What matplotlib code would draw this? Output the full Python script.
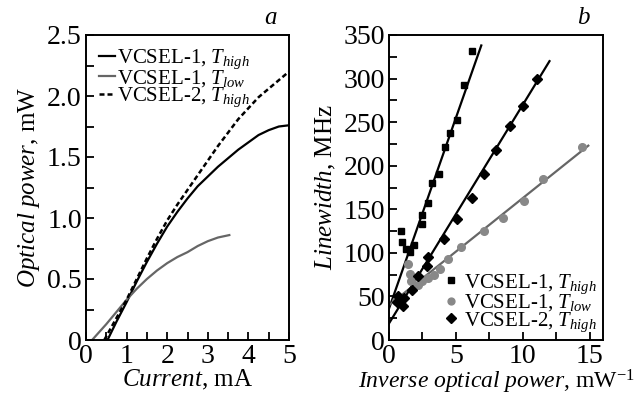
import matplotlib
matplotlib.use('Agg')
import matplotlib.pyplot as plt
from matplotlib.ticker import MultipleLocator, FuncFormatter

plt.rcParams['font.family'] = ['Liberation Serif', 'DejaVu Serif']
plt.rcParams['mathtext.fontset'] = 'custom'
plt.rcParams['mathtext.rm'] = 'Liberation Serif'
plt.rcParams['mathtext.it'] = 'Liberation Serif:italic'
plt.rcParams['mathtext.bf'] = 'Liberation Serif:bold'
plt.rcParams['xtick.direction'] = 'in'
plt.rcParams['ytick.direction'] = 'in'

# panel a: light-current curves
current_1h = [0.53, 0.75, 1.0, 1.25, 1.5, 1.75, 2.0, 2.25, 2.5, 2.75, 3.0, 3.25, 3.5, 3.75, 4.0, 4.25, 4.5, 4.75, 5.0]
power_1h = [0.0, 0.15, 0.31, 0.48, 0.64, 0.79, 0.93, 1.05, 1.16, 1.26, 1.34, 1.42, 1.49, 1.56, 1.62, 1.68, 1.72, 1.75, 1.76]
current_1l = [0.15, 0.5, 0.75, 1.0, 1.25, 1.5, 1.75, 2.0, 2.25, 2.5, 2.75, 3.0, 3.25, 3.53]
power_1l = [0.0, 0.13, 0.23, 0.33, 0.42, 0.50, 0.57, 0.63, 0.68, 0.72, 0.77, 0.81, 0.84, 0.86]
current_2h = [0.45, 0.75, 1.0, 1.25, 1.5, 1.75, 2.0, 2.25, 2.5, 2.75, 3.0, 3.25, 3.5, 3.75, 4.0, 4.25, 4.5, 4.75, 5.0]
power_2h = [0.0, 0.18, 0.33, 0.50, 0.67, 0.83, 0.98, 1.11, 1.23, 1.35, 1.47, 1.59, 1.70, 1.81, 1.90, 1.99, 2.06, 2.13, 2.20]

# panel b: linewidth vs inverse power
inv_1h = [0.6, 0.9, 1.0, 1.27, 1.57, 1.9, 2.43, 2.5, 2.94, 3.2, 3.76, 4.18, 4.55, 5.1, 5.62, 6.24]
lw_1h = [47, 125, 112, 104, 101, 109, 133, 144, 157, 180, 190, 222, 238, 252, 293, 332]
inv_1l = [0.55, 1.44, 1.57, 1.64, 2.14, 2.49, 2.94, 3.39, 3.81, 4.43, 5.37, 7.1, 8.53, 10.1, 11.5, 14.45]
lw_1l = [45, 87, 76, 68, 63, 68, 71, 75, 82, 93, 107, 125, 140, 160, 185, 222]
inv_2h = [0.62, 0.65, 1.07, 1.14, 1.69, 2.14, 2.84, 2.94, 4.13, 5.05, 6.17, 7.11, 8.03, 9.08, 10.0, 11.07]
lw_2h = [44, 50, 39, 48, 57, 73, 85, 95, 116, 139, 163, 190, 218, 246, 268, 299]

# fitted lines (end points)
fit_1h_x = [0, 6.9]
fit_1h_y = [36, 338]
fit_1l_x = [0, 14.9]
fit_1l_y = [40, 223]
fit_2h_x = [0, 12.0]
fit_2h_y = [19, 320]

labels = [r'VCSEL-1, $T_{high}$', r'VCSEL-1, $T_{low}$', r'VCSEL-2, $T_{high}$']

fig = plt.figure(figsize=(6.38, 4.01), dpi=100)
ax1 = fig.add_axes([86 / 638, 61 / 401, 203 / 638, 305 / 401])
ax2 = fig.add_axes([389 / 638, 61 / 401, 214 / 638, 305 / 401])

ax1.plot(current_1h, power_1h, color='black', lw=1.6, label=labels[0])
ax1.plot(current_1l, power_1l, color='#666666', lw=1.6, label=labels[1])
ax1.plot(current_2h, power_2h, color='black', lw=1.8, ls=(0, (2, 1.2)), label=labels[2])
ax1.set_xlim(0, 5)
ax1.set_ylim(0, 2.5)
ax1.xaxis.set_major_locator(MultipleLocator(1))
ax1.xaxis.set_minor_locator(MultipleLocator(0.5))
ax1.yaxis.set_major_locator(MultipleLocator(0.5))
ax1.yaxis.set_minor_locator(MultipleLocator(0.25))
ax1.yaxis.set_major_formatter(FuncFormatter(lambda v, p: '0' if v == 0 else '%.1f' % v))
ax1.set_xlabel(r'$Current$, mA', fontsize=18, labelpad=-1)
ax1.set_ylabel(r'$Optical\ power$, mW', fontsize=18, labelpad=4)
ax1.legend(loc='upper left', frameon=False, fontsize=15, handlelength=0.8, handletextpad=0.1,
           labelspacing=-0.15, borderaxespad=0.5, borderpad=0.1)
ax1.text(0.88, 1.02, 'a', transform=ax1.transAxes, fontsize=18, style='italic', va='bottom')

ax2.plot(fit_1h_x, fit_1h_y, color='black', lw=1.6)
ax2.plot(fit_1l_x, fit_1l_y, color='#666666', lw=1.6)
ax2.plot(fit_2h_x, fit_2h_y, color='black', lw=1.6)
ax2.plot(inv_1h, lw_1h, 's', color='black', ms=5, label=labels[0])
ax2.plot(inv_1l, lw_1l, 'o', color='#888888', ms=5.5, label=labels[1])
ax2.plot(inv_2h, lw_2h, 'D', color='black', ms=5.5, label=labels[2])
ax2.set_xlim(0, 16)
ax2.set_ylim(0, 350)
ax2.xaxis.set_major_locator(MultipleLocator(5))
ax2.xaxis.set_minor_locator(MultipleLocator(2.5))
ax2.yaxis.set_major_locator(MultipleLocator(50))
ax2.yaxis.set_minor_locator(MultipleLocator(25))
ax2.set_xlabel(r'$Inverse\ optical\ power$, mW$^{-1}$', fontsize=17, labelpad=-1)
ax2.set_ylabel(r'$Linewidth$, MHz', fontsize=18, labelpad=4)
ax2.legend(loc='lower right', frameon=False, fontsize=15, handlelength=0.6, handletextpad=0.3,
           labelspacing=-0.15, borderaxespad=0.2, borderpad=0.1, markerscale=0.9)
ax2.text(0.88, 1.02, 'b', transform=ax2.transAxes, fontsize=18, style='italic', va='bottom')

for ax in (ax1, ax2):
    for s in ax.spines.values():
        s.set_linewidth(1.4)
    ax.tick_params(axis='both', which='major', direction='in', length=6, width=1.3,
                   color='black', labelsize=20, pad=3, top=False, right=False)
    ax.tick_params(axis='both', which='minor', direction='in', length=6, width=1.3,
                   color='black', top=False, right=False)

fig.savefig('out.png', dpi=100)
